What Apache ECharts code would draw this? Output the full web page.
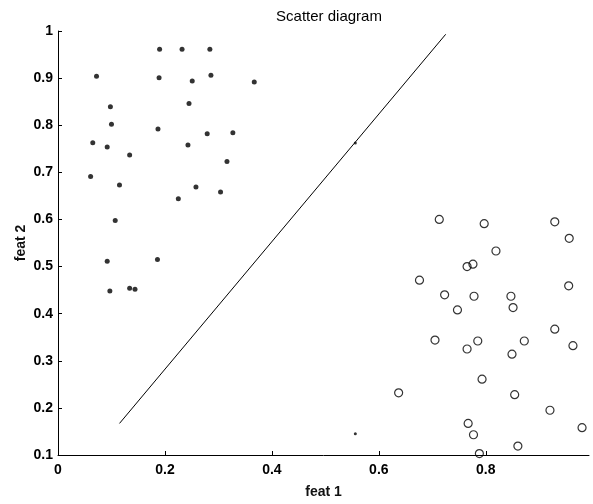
<!DOCTYPE html>
<html>
<head>
<meta charset="utf-8">
<script src="https://cdn.jsdelivr.net/npm/echarts@6/dist/echarts.min.js"></script>
<style>
    html, body { margin: 0; padding: 0; background: #fff; }
    #main { width: 593px; height: 504px; }
</style>
</head>
<body>
<div id="main"></div>
<script>
// class 1 (filled dots)
var class1 = [
    [0.190, 0.961], [0.232, 0.961], [0.284, 0.961], [0.072, 0.904], [0.189, 0.901],
    [0.251, 0.894], [0.286, 0.906], [0.367, 0.892], [0.098, 0.839], [0.245, 0.846],
    [0.100, 0.802], [0.187, 0.792], [0.279, 0.782], [0.327, 0.784], [0.065, 0.763],
    [0.092, 0.754], [0.243, 0.758], [0.134, 0.737], [0.316, 0.723], [0.061, 0.691],
    [0.115, 0.673], [0.258, 0.669], [0.304, 0.658], [0.225, 0.644], [0.107, 0.598],
    [0.092, 0.511], [0.186, 0.515], [0.097, 0.448], [0.134, 0.454], [0.144, 0.452]
];
// stray small dots
var strayDots = [[0.556, 0.762], [0.556, 0.145]];
// class 2 (open circles)
var class2 = [
    [0.713, 0.600], [0.797, 0.591], [0.929, 0.595], [0.956, 0.560], [0.819, 0.533],
    [0.765, 0.500], [0.776, 0.505], [0.676, 0.471], [0.955, 0.459], [0.723, 0.440],
    [0.778, 0.437], [0.847, 0.437], [0.851, 0.413], [0.747, 0.408], [0.929, 0.367],
    [0.705, 0.344], [0.785, 0.342], [0.872, 0.342], [0.765, 0.325], [0.963, 0.332],
    [0.849, 0.314], [0.793, 0.261], [0.637, 0.232], [0.854, 0.228], [0.920, 0.195],
    [0.767, 0.167], [0.980, 0.158], [0.777, 0.143], [0.860, 0.119], [0.788, 0.103]
];
// separating line
var boundary = [[0.115, 0.167], [0.725, 0.993]];
var xTicks = { min: 0, max: 0.993, step: 0.2 };
var yTicks = { min: 0.1, max: 1, step: 0.1 };

var font = 'Liberation Sans, Arial, Helvetica, sans-serif';
var chart = echarts.init(document.getElementById('main'));
chart.setOption({
    animation: false,
    title: {
        text: 'Scatter diagram',
        left: 324,
        textAlign: 'center',
        top: 4,
        textStyle: { fontFamily: font, fontSize: 15, fontWeight: 'normal', color: '#000' }
    },
    grid: { left: 58, right: 4, top: 31, bottom: 47 },
    xAxis: {
        type: 'value',
        min: xTicks.min,
        max: xTicks.max,
        interval: xTicks.step,
        name: 'feat 1',
        nameLocation: 'middle',
        nameGap: 30,
        nameMoveOverlap: false,
        nameTextStyle: { fontFamily: font, fontSize: 14, fontWeight: 'bold', color: '#111' },
        axisLine: { lineStyle: { color: '#000', width: 1 } },
        axisTick: { inside: true, length: 4, lineStyle: { color: '#000' } },
        axisLabel: { fontFamily: font, fontSize: 14, fontWeight: 'bold', color: '#000', margin: 8, showMaxLabel: false },
        splitLine: { show: false }
    },
    yAxis: {
        type: 'value',
        min: yTicks.min,
        max: yTicks.max,
        interval: yTicks.step,
        name: 'feat 2',
        nameLocation: 'middle',
        nameGap: 30,
        nameMoveOverlap: false,
        nameTextStyle: { fontFamily: font, fontSize: 14, fontWeight: 'bold', color: '#111' },
        axisLine: { show: true, lineStyle: { color: '#000', width: 1 } },
        axisTick: { show: true, inside: true, length: 4, lineStyle: { color: '#000' } },
        axisLabel: { fontFamily: font, fontSize: 14, fontWeight: 'bold', color: '#000', margin: 5 },
        splitLine: { show: false }
    },
    series: [
        {
            type: 'line',
            data: boundary,
            showSymbol: false,
            lineStyle: { color: '#000', width: 1 },
            z: 1
        },
        {
            type: 'scatter',
            data: class1,
            symbol: 'circle',
            symbolSize: 5,
            itemStyle: { color: '#000' }
        },
        {
            type: 'scatter',
            data: strayDots,
            symbol: 'circle',
            symbolSize: 3,
            itemStyle: { color: '#000' }
        },
        {
            type: 'scatter',
            data: class2,
            symbol: 'circle',
            symbolSize: 8,
            itemStyle: { color: 'transparent', borderColor: '#000', borderWidth: 1.2 }
        }
    ]
});
</script>
</body>
</html>
